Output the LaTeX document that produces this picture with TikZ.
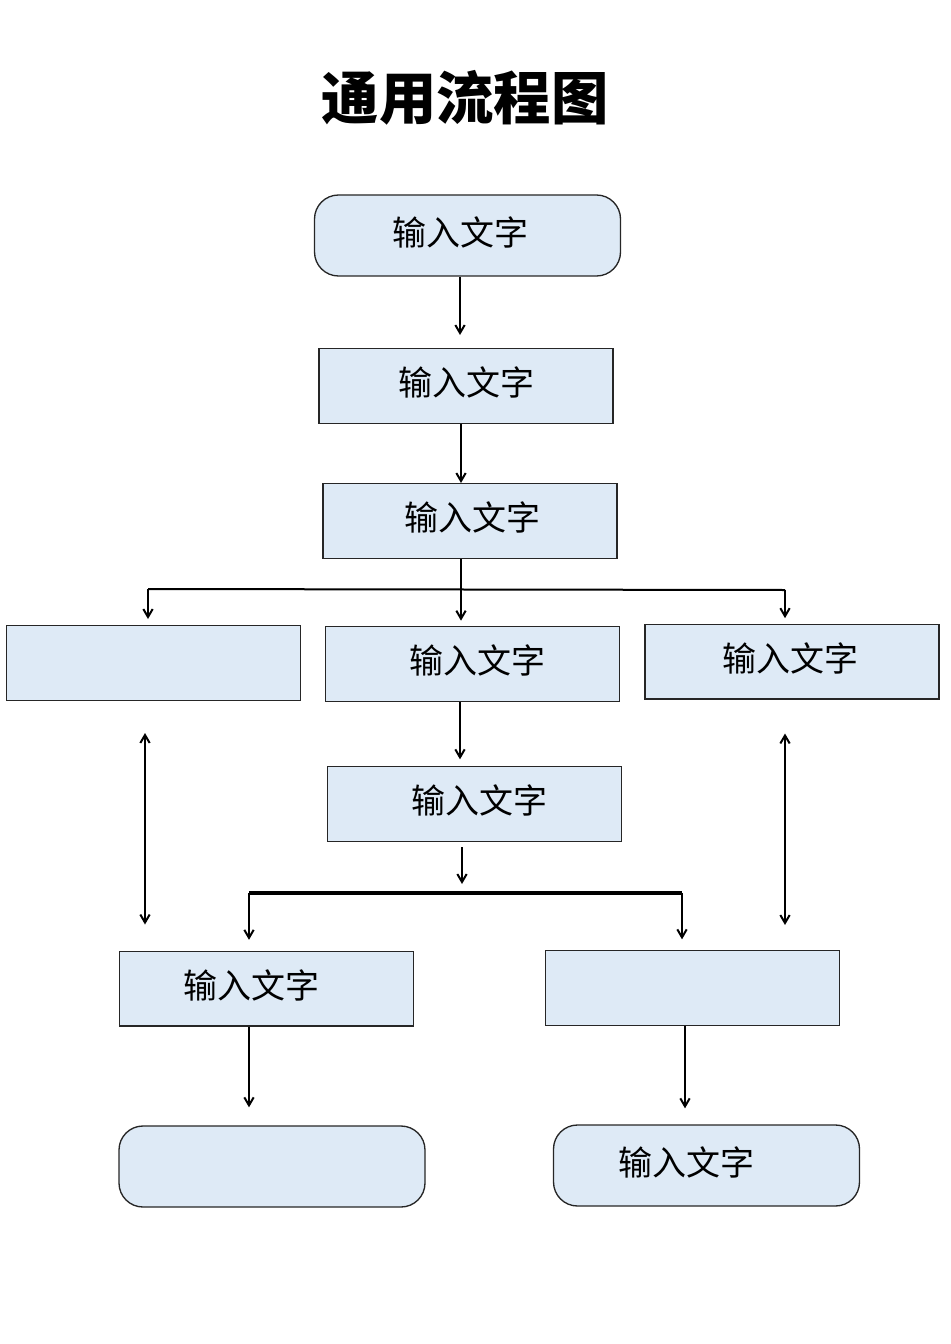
\documentclass[tikz,border=0pt]{standalone}
\usepackage{fontspec}
\setmainfont{Noto Sans CJK SC}
\usetikzlibrary{arrows.meta,positioning}
\definecolor{boxblue}{RGB}{222,234,246}
\tikzset{
  box/.style={draw=black!85, line width=1pt, fill=boxblue, minimum width=220.5pt, minimum height=56pt, inner sep=0pt},
  term/.style={box, rounded corners=18pt, minimum width=229.5pt, minimum height=60.75pt},
  word/.style={label={[xshift=#1, yshift=2.5pt, font=\fontsize{25.5}{26}\selectfont]center:输入文字}},
  flow/.style={-{Straight Barb[length=6pt,width=7pt]}, line width=1.5pt},
  both/.style={{Straight Barb[length=6pt,width=7pt]}-{Straight Barb[length=6pt,width=7pt]}, line width=1.5pt},
  bar/.style={line width=1.5pt}
}
\begin{document}
\begin{tikzpicture}[x=0.75pt, y=-0.75pt]
  \useasboundingbox (0,0) rectangle (950,1344);
  \node[font=\bfseries\fontsize{43}{43}\selectfont] (title) at (465,98) {通用流程图};

  \node[term, word=-4.9pt] (start) at (467.5,235.5) {};
  \node[box, word=0pt] (box2) at (466,386) {};
  \node[box, word=2.2pt] (box3) at (470,521) {};
  \node[box] (left4) at (153.5,663) {};
  \node[box, word=3.4pt] (mid4) at (472.5,664) {};
  \node[box, word=-1.5pt] (right4) at (792,661.5) {};
  \node[box, word=4.1pt] (box5) at (474.5,804) {};
  \node[box, word=-10.9pt] (left6) at (266.5,988.5) {};
  \node[box] (right6) at (692.5,988) {};
  \node[term] (endl) at (272,1166.5) {};
  \node[term, word=-15pt] (endr) at (706.5,1165.5) {};

  % x positions of the connectors
  \coordinate (c1) at (460,0);
  \coordinate (c2) at (461,0);
  \coordinate (jl) at (148,589);
  \coordinate (jm) at (461,589);
  \coordinate (jr) at (785,590);
  \coordinate (c5) at (462,884);
  \coordinate (kl) at (249,893);
  \coordinate (kr) at (682,893);
  \coordinate (ul) at (145,0);
  \coordinate (ur) at (785,0);
  \coordinate (c6) at (685,0);

  \draw[flow, shorten >=9.75pt] (start.south -| c1) -- (box2.north -| c1);
  \draw[flow] (box2.south -| c2) -- (box3.north -| c2);

  \draw[bar] (box3.south -| jm) -- (jm);
  \draw[bar] (jl) -- (jr);
  \draw[flow, shorten >=4.5pt] (jl) -- (jl |- left4.north);
  \draw[flow, shorten >=4pt] (jm) -- (jm |- mid4.north);
  \draw[flow, shorten >=4pt] (jr) -- (jr |- right4.north);

  \draw[flow, shorten >=5pt] (mid4.south -| c1) -- (box5.north -| c1);
  \draw[flow, shorten <=4pt] (box5.south -| c5) -- (c5);

  \draw[line width=2.4pt] (kl) -- (kr);
  \draw[flow, shorten >=8pt] (kl) -- (kl |- left6.north);
  \draw[flow, shorten >=8pt] (kr) -- (kr |- right6.north);

  \draw[both, shorten <=24pt, shorten >=19.5pt] (left4.south -| ul) -- (left6.north -| ul);
  \draw[both, shorten <=25.5pt, shorten >=18.75pt] (right4.south -| ur) -- (right6.north -| ur);

  \draw[flow, shorten >=13.5pt] (left6.south -| kl) -- (endl.north -| kl);
  \draw[flow, shorten >=12pt] (right6.south -| c6) -- (endr.north -| c6);
\end{tikzpicture}
\end{document}
